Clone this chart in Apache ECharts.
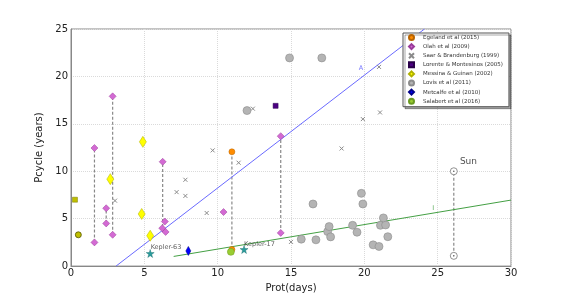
<!DOCTYPE html>
<html><head><meta charset="utf-8">
<script src="https://cdn.jsdelivr.net/npm/echarts@6/dist/echarts.min.js"></script>
<style>html,body{margin:0;padding:0;background:#fff}#c{width:568px;height:298px}</style>
</head><body><div id="c"></div>
<script>
// ---- data ----
const xTicks = [0, 5, 10, 15, 20, 25, 30];
const yTicks = [0, 5, 10, 15, 20, 25];
const egeland = [[10.97, 12.05], [10.97, 1.75]];
const olah = [[1.6, 12.45], [1.6, 2.5], [2.84, 17.9], [2.84, 3.3], [2.4, 6.1], [2.4, 4.5],
  [6.25, 11.0], [6.4, 4.7], [6.22, 4.0], [6.45, 3.6], [10.4, 5.7], [14.3, 13.7], [14.3, 3.5]];
const saar = [[3.0, 6.9], [7.2, 7.8], [7.8, 9.1], [7.8, 7.4], [9.25, 5.6], [9.66, 12.2],
  [11.43, 10.9], [12.4, 16.6], [15.0, 2.55], [21.0, 21.0], [21.07, 16.2], [19.9, 15.5], [18.45, 12.4]];
const lorente = [[13.95, 16.9]];
const messina = [[2.68, 9.17], [4.9, 13.1], [4.82, 5.5], [5.4, 3.2]];
const lovis = [[14.9, 21.95], [17.1, 21.95], [12.0, 16.4], [16.5, 6.55], [19.8, 7.67], [19.9, 6.55],
  [15.7, 2.84], [16.7, 2.77], [17.5, 3.64], [17.6, 4.17], [17.7, 3.08], [19.2, 4.3], [19.5, 3.57],
  [21.1, 4.3], [21.45, 4.34], [21.3, 5.08], [21.6, 3.1], [20.6, 2.24], [21.0, 2.07]];
const metcalfe = [[8.0, 1.6]];
const salabert = [[10.9, 1.5]];
const oliveSquare = [[0.27, 7.0]];
const oliveCircle = [[0.5, 3.3]];
const keplerStars = [[5.4, 1.33], [11.8, 1.75]];
const keplerNames = ['Kepler-63', 'Kepler-17'];
const keplerLabelPos = [[5.43, 2.0], [11.8, 2.3]];
const sun = [[26.1, 10.0], [26.1, 1.08]];
const sunLabel = [27.1, 11.06, 'Sun'];
// vertical dashed ranges: x, y from, y to
const segX = [1.6, 2.84, 2.4, 6.25, 10.97, 14.3, 26.1];
const segY0 = [2.5, 3.3, 4.5, 3.6, 1.75, 3.5, 1.08];
const segY1 = [12.45, 17.9, 6.1, 11.0, 12.05, 13.7, 10.0];
const fitA = [[3.07, 0], [24.1, 25]];
const fitI = [[7.0, 1.02], [30, 6.96]];
const fitLabels = [[19.77, 20.9, 'A', '#5555ff'], [24.7, 6.1, 'I', '#339933']];

const FONT = 'DejaVu Sans';
const xPath = 'path://M0,0L10,10M10,0L0,10';

const series = [];
segX.forEach((x, i) => {
  series.push({ type: 'line', data: [[x, segY0[i]], [x, segY1[i]]], symbol: 'none', silent: true, z: 1,
    lineStyle: { color: '#888', width: 1.2, type: [3, 2] } });
});
series.push({ type: 'line', data: fitA, symbol: 'none', z: 1, lineStyle: { color: '#6a6aff', width: 1 } });
series.push({ type: 'line', data: fitI, symbol: 'none', z: 1, lineStyle: { color: '#44a044', width: 1 } });
series.push({ name: 'Egeland et al (2015)', type: 'scatter', data: egeland, symbol: 'circle', symbolSize: 6, z: 5,
  itemStyle: { color: '#ff8c00', borderColor: '#b86400', borderWidth: 0.5, opacity: 1 } });
series.push({ name: 'Olah et al (2009)', type: 'scatter', data: olah, symbol: 'diamond', symbolSize: 7, z: 5,
  itemStyle: { color: '#d36ad3', borderColor: '#9a3c9a', borderWidth: 0.5, opacity: 1 } });
series.push({ name: 'Saar & Brandenburg (1999)', type: 'scatter', data: saar, symbol: xPath, symbolSize: 4, z: 5,
  itemStyle: { color: 'transparent', borderColor: '#8a8a8a', borderWidth: 1, opacity: 1 } });
series.push({ name: 'Lorente & Montesinos (2005)', type: 'scatter', data: lorente, symbol: 'rect', symbolSize: 5, z: 5,
  itemStyle: { color: '#4b0082', borderColor: '#2a004a', borderWidth: 0.5, opacity: 1 } });
series.push({ name: 'Messina & Guinan (2002)', type: 'scatter', data: messina, symbol: 'diamond', symbolSize: [7, 11], z: 5,
  itemStyle: { color: '#ffff00', borderColor: '#b0b000', borderWidth: 0.5, opacity: 1 } });
series.push({ name: 'Lovis et al (2011)', type: 'scatter', data: lovis, symbol: 'circle', symbolSize: 8, z: 5,
  itemStyle: { color: '#b4b4b4', borderColor: '#8c8c8c', borderWidth: 0.6, opacity: 1 } });
series.push({ name: 'Metcalfe et al (2010)', type: 'scatter', data: metcalfe, symbol: 'diamond', symbolSize: [5, 9], z: 5,
  itemStyle: { color: '#0000ff', borderColor: '#000088', borderWidth: 0.5, opacity: 1 } });
series.push({ name: 'Salabert et al (2016)', type: 'scatter', data: salabert, symbol: 'circle', symbolSize: 7, z: 6,
  itemStyle: { color: '#9acd32', borderColor: '#6a9a20', borderWidth: 0.5, opacity: 1 } });
series.push({ type: 'scatter', data: oliveSquare, symbol: 'rect', symbolSize: 5, z: 5,
  itemStyle: { color: '#bfbf00', borderColor: '#7a7a00', borderWidth: 0.5, opacity: 1 } });
series.push({ type: 'scatter', data: oliveCircle, symbol: 'circle', symbolSize: 6, z: 5,
  itemStyle: { color: '#bfbf00', borderColor: '#555500', borderWidth: 0.8, opacity: 1 } });
series.push({ type: 'scatter', data: keplerStars, symbol: 'path://M50,0L61,35L98,35L68,57L79,91L50,70L21,91L32,57L2,35L39,35Z', symbolSize: 8, z: 5,
  itemStyle: { color: '#2a9d9d', borderColor: '#1a6a6a', borderWidth: 0.4, opacity: 1 } });
series.push({ type: 'scatter', data: keplerLabelPos.map((p, i) => [p[0], p[1], keplerNames[i]]), symbolSize: 0, z: 7, silent: true,
  label: { show: true, position: 'right', distance: 0, formatter: p => p.data[2], fontFamily: FONT, fontSize: 6.5, color: '#333' } });
series.push({ type: 'scatter', data: sun, symbol: 'circle', symbolSize: 7, z: 5,
  itemStyle: { color: '#fff', borderColor: '#777', borderWidth: 0.8, opacity: 1 } });
series.push({ type: 'scatter', data: sun, symbol: 'circle', symbolSize: 1.6, z: 6,
  itemStyle: { color: '#555', opacity: 1 } });
series.push({ type: 'scatter', data: [sunLabel], symbolSize: 0, z: 7, silent: true,
  label: { show: true, position: 'inside', formatter: p => p.data[2], fontFamily: FONT, fontSize: 9, color: '#222' } });
fitLabels.forEach(f => {
  series.push({ type: 'scatter', data: [f], symbolSize: 0, z: 7, silent: true,
    label: { show: true, position: 'inside', formatter: p => p.data[2], fontFamily: FONT, fontSize: 6.5, color: f[3] } });
});

const chart = echarts.init(document.getElementById('c'), null, { renderer: 'canvas' });
chart.setOption({
  animation: false,
  backgroundColor: '#fff',
  grid: { left: 71, right: 57, top: 29, bottom: 30, show: true, borderColor: '#888', borderWidth: 1 },
  xAxis: {
    type: 'value', min: xTicks[0], max: xTicks[xTicks.length - 1], interval: 5,
    name: 'Prot(days)', nameLocation: 'middle', nameGap: 14,
    nameTextStyle: { fontFamily: FONT, fontSize: 10, color: '#222' },
    axisLine: { show: true, lineStyle: { color: '#888' } }, axisTick: { show: false },
    axisLabel: { fontFamily: FONT, fontSize: 10, color: '#222', margin: 2, showMinLabel: true, showMaxLabel: true },
    splitLine: { show: true, lineStyle: { color: '#dadada', type: 'dotted', width: 1 } }
  },
  yAxis: {
    type: 'value', min: yTicks[0], max: yTicks[yTicks.length - 1], interval: 5,
    name: 'Pcycle (years)', nameLocation: 'middle', nameGap: 17, nameRotate: 90,
    nameTextStyle: { fontFamily: FONT, fontSize: 10, color: '#222' },
    axisLine: { show: true, lineStyle: { color: '#888' } }, axisTick: { show: false },
    axisLabel: { fontFamily: FONT, fontSize: 10, color: '#222', margin: 3, showMinLabel: true, showMaxLabel: true },
    splitLine: { show: true, lineStyle: { color: '#dadada', type: 'dotted', width: 1 } }
  },
  legend: {
    orient: 'vertical', left: 403, top: 33,
    padding: [1, 6, 2, 5], itemGap: 2.1, itemWidth: 5, itemHeight: 5,
    backgroundColor: '#fff', borderColor: '#555', borderWidth: 1,
    shadowColor: 'rgba(0,0,0,0.35)', shadowOffsetX: 2, shadowOffsetY: 2, shadowBlur: 0,
    textStyle: { fontFamily: FONT, fontSize: 5.5, color: '#333', padding: [0, 0, 0, 4] },
    data: ['Egeland et al (2015)', 'Olah et al (2009)', 'Saar & Brandenburg (1999)', 'Lorente & Montesinos (2005)',
      'Messina & Guinan (2002)', 'Lovis et al (2011)', 'Metcalfe et al (2010)', 'Salabert et al (2016)']
  },
  series: series
});
</script></body></html>
